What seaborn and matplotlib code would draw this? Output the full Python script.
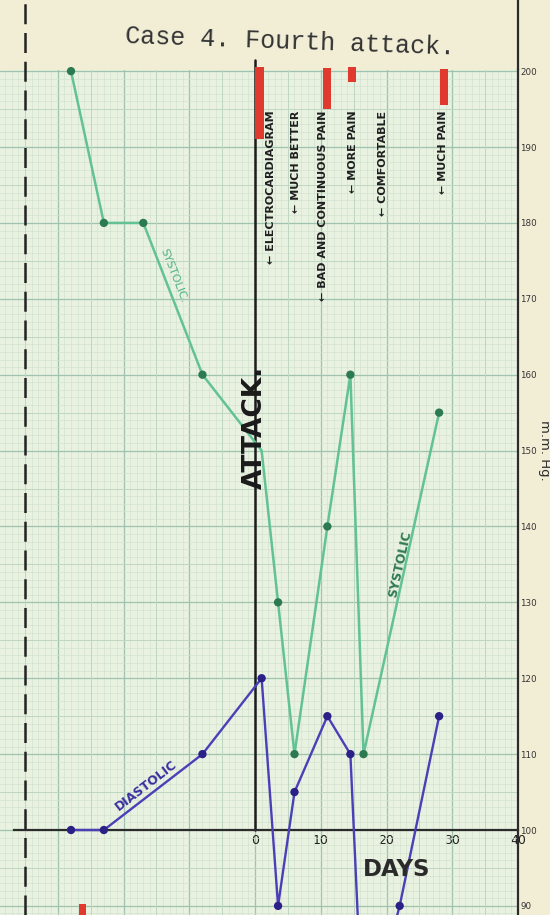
import numpy as np
import pandas as pd
import matplotlib
matplotlib.use("Agg")
import matplotlib.pyplot as plt
import matplotlib.transforms as mtransforms
from matplotlib.ticker import MultipleLocator, FuncFormatter
from matplotlib import font_manager
import seaborn as sns

# ---------------- data ----------------
systolic_days = [-28, -23, -17, -8, 1, 3.5, 6, 11, 14.5, 16.5, 28]
systolic_mmhg = [200, 180, 180, 160, 150, 130, 110, 140, 160, 110, 155]
systolic_marked = [True, True, True, True, False, True, True, True, True, True, True]

diastolic_days = [-28, -23, -8, 1, 3.5, 6, 11, 14.5, 16.5, 22, 28]
diastolic_mmhg = [100, 100, 110, 120, 90, 105, 115, 110, 72, 90, 115]
diastolic_marked = [True, True, True, True, True, True, True, True, False, True, True]

pain_days = [0.7, 11, 14.8, 28.7, -26.2]
pain_top = [200.6, 200.4, 200.6, 200.3, 90.2]
pain_bottom = [191, 195, 198.6, 195.5, 85]
pain_width = [1.4, 1.2, 1.2, 1.2, 1.1]

event_days = [2.5, 6.2, 10.3, 14.9, 19.5, 28.6]
event_labels = ["ELECTROCARDIAGRAM", "MUCH BETTER", "BAD AND CONTINUOUS PAIN",
                "MORE PAIN", "COMFORTABLE", "MUCH PAIN"]

attack_day = 0
x_tick_labels = [0, 10, 20, 30, 40]
y_tick_labels = [90, 100, 110, 120, 130, 140, 150, 160, 170, 180, 190, 200]

title = "Case 4. Fourth attack."

# ---------------- style ----------------
PAPER = "#f2eed6"
GRIDPAPER = "#e9f1e0"
MINOR = "#d2e2cf"
MID = "#bfd6c3"
MAJOR = "#9fc3ae"
SYS_LINE = "#62c296"
SYS_DOT = "#2c7a52"
DIA_LINE = "#4b3fb8"
DIA_DOT = "#2a2088"
RED = "#e03a2f"
INK = "#1f1f1f"


def has_font(name):
    try:
        font_manager.findfont(font_manager.FontProperties(family=name),
                              fallback_to_default=False)
        return True
    except Exception:
        return False


NARROW_OK = has_font("Liberation Sans Narrow")
NARROW = ["Liberation Sans Narrow", "DejaVu Sans"] if NARROW_OK else ["DejaVu Sans"]
MONO = ["Liberation Mono", "DejaVu Sans Mono"]

sns.set_style("white")
plt.rcParams["font.family"] = ["DejaVu Sans"]

W, H = 550, 915
fig = plt.figure(figsize=(W / 100, H / 100), dpi=100, facecolor=PAPER)
ax_right_px, ax_top_px = 518, 70
ax = fig.add_axes([0, 0, ax_right_px / W, 1 - ax_top_px / H])
ax.set_facecolor(GRIDPAPER)

XMIN, XMAX = -38.8, 40
YMIN, YMAX = 88.8, 200.15
ax.set_xlim(XMIN, XMAX)
ax.set_ylim(YMIN, YMAX)

# graph-paper grid
ax.set_axisbelow(True)
ax.xaxis.set_major_locator(MultipleLocator(10))
ax.xaxis.set_minor_locator(MultipleLocator(1))
ax.yaxis.set_major_locator(MultipleLocator(10))
ax.yaxis.set_minor_locator(MultipleLocator(1))
ax.grid(which="minor", color=MINOR, lw=0.45)
ax.grid(which="major", color=MAJOR, lw=0.9)
for v in np.arange(-35, 40, 10):
    ax.axvline(v, color=MID, lw=0.7, zorder=0.6)
for v in np.arange(95, 200, 10):
    ax.axhline(v, color=MID, lw=0.7, zorder=0.6)

# axes / ticks
ax.xaxis.set_major_formatter(FuncFormatter(lambda v, p: f"{int(round(v))}" if v >= 0 else ""))
ax.yaxis.set_major_formatter(FuncFormatter(lambda v, p: f"{int(round(v))}"))
ax.yaxis.tick_right()
ax.tick_params(axis="both", which="both", length=0)
ax.tick_params(axis="x", pad=3, labelsize=9, labelcolor=INK)
ax.tick_params(axis="y", pad=1.5, labelsize=6.3, labelcolor="#333333")
for lab in ax.get_xticklabels():
    lab.set_fontweight("bold")

for s in ["top", "left"]:
    ax.spines[s].set_visible(False)
ax.spines["bottom"].set_position(("data", 100))
ax.spines["bottom"].set_bounds(-36.6, 40)
ax.spines["bottom"].set_color("#2b2b2b")
ax.spines["bottom"].set_linewidth(1.6)
ax.spines["right"].set_color("#2b2b2b")
ax.spines["right"].set_linewidth(1.6)

extra = 1 + ax_top_px / (H - ax_top_px)
ax.axvline(XMAX, ymin=1, ymax=extra, color="#2b2b2b", lw=1.6, clip_on=False)
# dashed left rule
ax.axvline(-35, ymin=0, ymax=extra, color="#222222", lw=1.8,
           ls=(0, (8, 3.5)), clip_on=False, zorder=2)
# attack line
ymin_frac = (100 - YMIN) / (YMAX - YMIN)
ax.axvline(attack_day, ymin=ymin_frac, ymax=1.012, color="#1c1c1c", lw=1.8,
           clip_on=False, zorder=2.5)

# pain / ECG red bars
heights = [t - b for t, b in zip(pain_top, pain_bottom)]
ax.bar(pain_days, heights, bottom=pain_bottom, width=pain_width,
       color=RED, zorder=3, clip_on=False, linewidth=0)

# series
sys_df = pd.DataFrame({"day": systolic_days, "mmHg": systolic_mmhg, "marked": systolic_marked})
dia_df = pd.DataFrame({"day": diastolic_days, "mmHg": diastolic_mmhg, "marked": diastolic_marked})

sns.lineplot(data=sys_df, x="day", y="mmHg", sort=False, estimator=None,
             color=SYS_LINE, lw=1.8, ax=ax, zorder=3)
sns.scatterplot(data=sys_df[sys_df["marked"]], x="day", y="mmHg", color=SYS_DOT,
                s=36, edgecolor="none", ax=ax, zorder=4, clip_on=False)
sns.lineplot(data=dia_df, x="day", y="mmHg", sort=False, estimator=None,
             color=DIA_LINE, lw=1.7, ax=ax, zorder=3)
sns.scatterplot(data=dia_df[dia_df["marked"]], x="day", y="mmHg", color=DIA_DOT,
                s=36, edgecolor="none", ax=ax, zorder=4)
ax.set_xlabel("")
ax.set_ylabel("")

# event notes
ev_size = 10.5 if NARROW_OK else 8
for d, lab in zip(event_days, event_labels):
    ax.text(d, 194.8, "\u2190 " + lab, rotation=90, ha="center", va="top",
            fontsize=ev_size, fontweight="bold", family=NARROW, color=INK, zorder=5)

# big labels
ax.text(attack_day, 153, "ATTACK.", rotation=90, ha="center", va="center",
        fontsize=24 if NARROW_OK else 19, fontweight="bold", family=NARROW,
        color="#1a1a1a", zorder=5)
ax.text(21.5, 94.8, "DAYS", ha="center", va="center", fontsize=16.5,
        fontweight="bold", color="#2a2a2a", zorder=5)

ax.text(-12.4, 173, "SYSTOLIC.", rotation=-68.7, ha="center", va="center",
        fontsize=8, color="#4fb383", zorder=5, rotation_mode="anchor")
ax.text(22.0, 135, "SYSTOLIC", rotation=77.5, ha="center", va="center",
        fontsize=9, fontweight="bold", color="#2f7a4f", zorder=5, rotation_mode="anchor")
ax.text(-16.5, 105.8, "DIASTOLIC", rotation=37.6, ha="center", va="center",
        fontsize=9, fontweight="bold", color="#3b2fa0", zorder=5, rotation_mode="anchor")

# unit label
trans = mtransforms.blended_transform_factory(ax.transAxes, ax.transData)
ax.text(545 / ax_right_px, 150, "m.m. Hg.", rotation=-90, ha="center", va="center",
        fontsize=9.5, color="#2a2a2a", transform=trans, clip_on=False)

# title
fig.text(290 / W, 1 - 42 / H, title, ha="center", va="center", family=MONO,
         fontsize=18, color="#333333", rotation=-2)

fig.savefig("out.png", dpi=100, facecolor=PAPER)
